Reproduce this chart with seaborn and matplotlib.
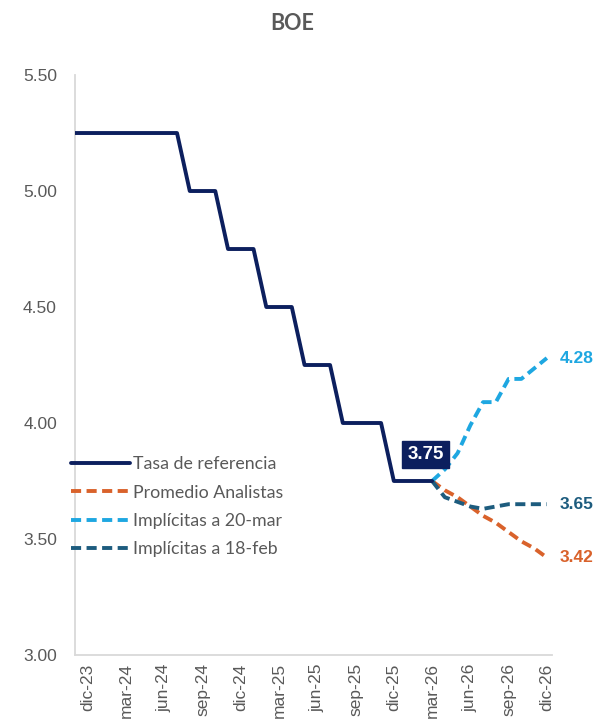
import matplotlib
matplotlib.use("Agg")
import matplotlib.pyplot as plt
import seaborn as sns
import numpy as np
import pandas as pd

# ---------------- data ----------------
months = ["nov-23", "dic-23", "ene-24", "feb-24", "mar-24", "abr-24", "may-24", "jun-24",
          "jul-24", "ago-24", "sep-24", "oct-24", "nov-24", "dic-24", "ene-25", "feb-25",
          "mar-25", "abr-25", "may-25", "jun-25", "jul-25", "ago-25", "sep-25", "oct-25",
          "nov-25", "dic-25", "ene-26", "feb-26", "mar-26", "abr-26", "may-26", "jun-26",
          "jul-26", "ago-26", "sep-26", "oct-26", "nov-26", "dic-26"]

ref_months = months[:29]          # nov-23 .. mar-26
tasa_referencia = [5.25, 5.25, 5.25, 5.25, 5.25, 5.25, 5.25, 5.25, 5.25,
                   5.00, 5.00, 5.00,
                   4.75, 4.75, 4.75,
                   4.50, 4.50, 4.50,
                   4.25, 4.25, 4.25,
                   4.00, 4.00, 4.00, 4.00,
                   3.75, 3.75, 3.75, 3.75]

fc_months = months[28:]           # mar-26 .. dic-26
promedio_analistas = [3.75, 3.71, 3.68, 3.64, 3.60, 3.57, 3.53, 3.49, 3.46, 3.42]
implicitas_20mar = [3.75, 3.80, 3.87, 3.99, 4.09, 4.09, 4.19, 4.19, 4.235, 4.28]
implicitas_18feb = [3.75, 3.68, 3.66, 3.64, 3.63, 3.64, 3.65, 3.65, 3.65, 3.65]

tick_labels = ["dic-23", "mar-24", "jun-24", "sep-24", "dic-24", "mar-25", "jun-25",
               "sep-25", "dic-25", "mar-26", "jun-26", "sep-26", "dic-26"]
yticks = [3.00, 3.50, 4.00, 4.50, 5.00, 5.50]

# ---------------- style ----------------
NAVY = "#0c1f5e"
ORANGE = "#d9622b"
LBLUE = "#1ea7e1"
TEAL = "#1d5c7e"
GREY = "#595959"

sns.set_theme(style="white")
plt.rcParams["font.family"] = ["Liberation Sans", "DejaVu Sans"]

fig = plt.figure(figsize=(5.98, 7.2), dpi=100)
ax = fig.add_axes([0.1254, 0.0903, 0.7976, 0.8055])

xr = [months.index(m) for m in ref_months]
xf = [months.index(m) for m in fc_months]

dash = (0, (2.6, 1.4))
lw_d = 2.8

sns.lineplot(x=xf, y=promedio_analistas, ax=ax, color=ORANGE, linewidth=lw_d,
             linestyle=dash, label="Promedio Analistas", zorder=3)
sns.lineplot(x=xf, y=implicitas_20mar, ax=ax, color=LBLUE, linewidth=lw_d,
             linestyle=dash, label="Implícitas a 20-mar", zorder=3)
sns.lineplot(x=xf, y=implicitas_18feb, ax=ax, color=TEAL, linewidth=lw_d,
             linestyle=dash, label="Implícitas a 18-feb", zorder=4)
sns.lineplot(x=xr, y=tasa_referencia, ax=ax, color=NAVY, linewidth=2.8,
             label="Tasa de referencia", zorder=5)

ax.set_xlim(0, 37.4)
ax.set_ylim(3.0, 5.5)
ax.set_xticks([months.index(t) for t in tick_labels])
ax.set_xticklabels(tick_labels, rotation=90, fontsize=12.5, color=GREY)
ax.set_yticks(yticks)
ax.set_yticklabels([f"{v:.2f}" for v in yticks], fontsize=12.5, color=GREY)
ax.tick_params(axis="both", length=0)
ax.tick_params(axis="y", pad=13)
ax.tick_params(axis="x", pad=6)
ax.set_xlabel("")
ax.set_ylabel("")
ax.grid(False)
for s in ["top", "right"]:
    ax.spines[s].set_visible(False)
for s in ["left", "bottom"]:
    ax.spines[s].set_color("#d9d9d9")
    ax.spines[s].set_linewidth(1.3)

# legend
handles, labels = ax.get_legend_handles_labels()
order = ["Tasa de referencia", "Promedio Analistas", "Implícitas a 20-mar", "Implícitas a 18-feb"]
hmap = dict(zip(labels, handles))
leg = ax.legend([hmap[o] for o in order], order, loc="upper left",
                bbox_to_anchor=(-0.008, 0.343), frameon=False,
                handlelength=3.3, handletextpad=0.2, labelspacing=0.7,
                borderpad=0, borderaxespad=0,
                prop={"family": ["Lato", "DejaVu Sans"], "size": 12.8})
for t in leg.get_texts():
    t.set_color(GREY)

# annotation box for last reference value
last_x = xr[-1]
last_v = tasa_referencia[-1]
ax.annotate(f"{last_v:.2f}", xy=(last_x, last_v), xytext=(-4.5, 19),
            textcoords="offset points", ha="center", va="center",
            fontsize=13.5, fontweight="bold", color="white", zorder=10,
            bbox=dict(boxstyle="square,pad=0.28", fc=NAVY, ec=NAVY))

# end labels
for vals, col in [(implicitas_20mar, LBLUE), (implicitas_18feb, TEAL), (promedio_analistas, ORANGE)]:
    ax.annotate(f"{vals[-1]:.2f}", xy=(xf[-1], vals[-1]), xytext=(9, 0),
                textcoords="offset points", ha="left", va="center",
                fontsize=12.5, fontweight="bold", color=col, annotation_clip=False)

fig.text(0.488, 0.968, "BOE", ha="center", va="center", fontsize=15.5,
         fontweight="bold", color=GREY, family=["Lato", "DejaVu Sans"])

fig.savefig("out.png", dpi=100)
